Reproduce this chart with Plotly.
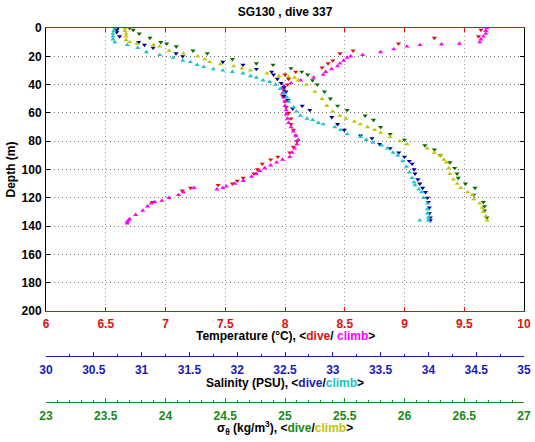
import plotly.graph_objects as go

# ---- data ----
temp_dive_depth = [1.4, 6, 7, 11, 16, 18, 23, 25, 28, 31, 33, 36, 40, 44, 48, 52, 56, 60, 64, 68, 72, 76, 80, 84,
                   88, 91, 93, 96, 100, 103, 106, 108, 110, 111, 113, 115, 123]
temp_dive = [9.64, 9.62, 9.25, 8.95, 8.57, 8.46, 8.40, 8.36, 8.31, 8.09, 8.00, 8.03, 8.02, 7.99, 7.98, 8.00, 8.01, 8.03,
             8.05, 8.05, 8.07, 8.09, 8.10, 8.07, 8.04, 7.94, 7.88, 7.81, 7.77, 7.74, 7.65, 7.60, 7.56, 7.44, 7.21,
             7.14, 6.89]

temp_climb_depth = [0, 2, 4, 6, 8, 10, 11, 11.5, 12, 13, 15, 17, 19, 20, 21, 23, 25, 27, 29, 31, 33, 35, 37, 39, 41,
                    43, 46, 49, 52, 55, 58, 61, 64, 67, 70, 73, 76, 79, 82, 85, 88, 91, 93, 95, 97, 99, 101, 103,
                    105, 108, 110, 112, 113, 114, 113, 116, 118, 120, 122, 123, 124, 126, 129, 132, 135, 136, 137, 138]
temp_climb = [9.69, 9.68, 9.68, 9.66, 9.64, 9.63, 9.46, 9.31, 9.13, 9.02, 8.91, 8.80, 8.65, 8.55, 8.52, 8.49, 8.46,
              8.44, 8.39, 8.34, 8.32, 8.24, 8.13, 8.05, 7.99, 7.97, 7.98, 7.99, 8.00, 8.00, 8.01, 8.01, 8.02, 8.03,
              8.05, 8.07, 8.09, 8.11, 8.10, 8.08, 8.06, 8.04, 7.98, 7.93, 7.88, 7.83, 7.79, 7.76, 7.72, 7.65, 7.58,
              7.51, 7.48, 7.43, 7.24, 7.15, 7.11, 7.03, 6.97, 6.91, 6.88, 6.85, 6.81, 6.75, 6.70, 6.69, 6.68, 6.68]

sal_dive_depth = [0, 1.4, 3, 6, 10, 12, 14, 18, 20, 24, 26, 29, 31, 33, 36, 39, 42, 45, 48, 51, 55, 57, 58, 63, 68,
                  72, 76, 78, 82, 85, 88, 91, 94, 96, 100, 103, 107, 110, 113, 116, 120, 123, 127, 131, 134, 136]
sal_dive = [30.75, 30.74, 30.74, 30.77, 30.97, 31.03, 31.12, 31.36, 31.43, 31.85, 32.06, 32.20, 32.36, 32.38, 32.42,
            32.46, 32.49, 32.51, 32.49, 32.53, 32.68, 32.58, 32.76, 32.99, 33.05, 33.12, 33.29, 33.41, 33.49, 33.60,
            33.69, 33.75, 33.80, 33.83, 33.85, 33.86, 33.89, 33.91, 33.94, 33.97, 33.99, 34.00, 34.01, 34.01,
            34.02, 34.02]

sal_climb_depth = [0, 2, 4, 6, 8, 10, 12, 14, 17, 19, 21, 23, 24, 26, 27.5, 29, 30, 31, 32, 34, 35, 37, 38, 40, 43,
                   46, 49, 52, 56, 59, 62, 64, 65, 67, 68, 70, 72, 75, 77, 79, 81, 83, 85, 88, 90, 94, 98, 102, 106,
                   109, 111, 114, 116, 120, 124, 128, 131, 134, 136, 136]
sal_climb = [30.72, 30.71, 30.70, 30.70, 30.70, 30.72, 30.85, 30.96, 31.05, 31.19, 31.33, 31.43, 31.51, 31.58, 31.65,
             31.75, 31.85, 31.95, 32.06, 32.14, 32.20, 32.27, 32.34, 32.40, 32.45, 32.49, 32.52, 32.54, 32.59, 32.62,
             32.66, 32.73, 32.79, 32.85, 32.90, 33.02, 33.08, 33.15, 33.29, 33.35, 33.42, 33.51, 33.57, 33.63,
             33.68, 33.73, 33.77, 33.80, 33.83, 33.85, 33.86, 33.90, 33.93, 33.95, 33.99, 33.99, 33.99, 34.00,
             34.00, 33.91]

sig_dive_depth = [0, 1.4, 4, 7, 10, 11, 13, 16, 18, 22, 25, 26, 28.5, 31, 33, 37, 40, 45, 50, 55, 58, 62, 65, 70, 75,
                  79, 83, 86, 90, 95, 99, 103, 106, 110, 113, 118, 123, 126, 129, 134]
sig_dive = [23.70, 23.73, 23.78, 23.87, 23.96, 24.01, 24.09, 24.23, 24.35, 24.56, 24.76, 24.90, 25.05, 25.14, 25.19,
            25.23, 25.27, 25.33, 25.38, 25.44, 25.52, 25.67, 25.74, 25.80, 25.88, 26.00, 26.17, 26.25, 26.30, 26.38,
            26.42, 26.44, 26.45, 26.51, 26.59, 26.58, 26.66, 26.67, 26.67, 26.69]

sig_climb_depth = [0, 2, 4, 6, 8.5, 10, 11, 12, 13, 16, 18, 20, 22, 24, 25.5, 27, 28.5, 30, 32, 34, 34.5, 35, 37, 40,
                   45, 50, 55, 59, 62, 64, 66, 68, 70, 72, 74, 77, 80, 82, 85, 88, 90, 93, 95, 99, 103, 107, 110, 113,
                   116, 118, 121, 124, 127, 130, 133, 136]
sig_climb = [23.66, 23.66, 23.67, 23.67, 23.67, 23.70, 23.76, 23.90, 23.95, 24.03, 24.15, 24.27, 24.33, 24.37, 24.46,
             24.57, 24.64, 24.71, 24.85, 24.95, 25.03, 25.08, 25.11, 25.18, 25.25, 25.31, 25.35, 25.40, 25.46, 25.51,
             25.58, 25.63, 25.69, 25.75, 25.80, 25.88, 25.96, 26.02, 26.19, 26.25, 26.30, 26.33, 26.35, 26.37,
             26.38, 26.41, 26.44, 26.47, 26.53, 26.57, 26.58, 26.63, 26.65, 26.66, 26.68, 26.69]

depth_ticks = list(range(0, 201, 20))

# ---- colours ----
RED = '#dd1111'
MAG = '#ff00ff'
BLUE_AX = '#1a1ab8'
BLUE = '#00009a'
CYAN = '#1cc4c4'
GREEN_AX = '#168a16'
GREEN = '#006e00'
OLIVE = '#c4c400'

FONT = 'Liberation Sans, Arial, Helvetica, sans-serif'
MS = 4.5

fig = go.Figure()

def add(x, y, color, sym, xa):
    fig.add_trace(go.Scatter(x=x, y=y, mode='markers', xaxis=xa, yaxis='y',
                             marker=dict(symbol=sym, size=MS, color=color, line=dict(width=0)),
                             hoverinfo='skip'))

add(temp_dive, temp_dive_depth, RED, 'triangle-down', 'x')
add(temp_climb, temp_climb_depth, MAG, 'triangle-up', 'x')
add(sal_dive, sal_dive_depth, BLUE, 'triangle-down', 'x2')
add(sal_climb, sal_climb_depth, CYAN, 'triangle-up', 'x2')
add(sig_dive, sig_dive_depth, GREEN, 'triangle-down', 'x3')
add(sig_climb, sig_climb_depth, OLIVE, 'triangle-up', 'x3')

H = 442
W = 535
top, bottom_axis = 28, 402
plot_bottom, sal_y = 311, 356
left, right = 46, 524
span = bottom_axis - top

def py(p):
    return (bottom_axis - p) / span

ydom0 = py(plot_bottom)
sal_pos = py(sal_y)

grid_y = 'rgba(90,90,90,0.85)'
grid_x = 'rgba(150,120,120,0.8)'
DASH = '1px,3px'

common = dict(automargin=False, zeroline=False)

fig.update_layout(
    width=W, height=H,
    margin=dict(l=left, r=W - right, t=top, b=H - bottom_axis),
    paper_bgcolor='white', plot_bgcolor='white',
    showlegend=False,
    font=dict(family=FONT, size=12, color='black', weight='bold'),
    title=dict(text='SG130 , dive 337', x=0.5, xref='paper', xanchor='center',
               y=1 - 12 / H, yref='container', yanchor='middle',
               font=dict(size=12, weight='bold', color='black')),
    yaxis=dict(domain=[ydom0, 1], range=[200, 0], tickvals=depth_ticks, ticks='inside', ticklen=4,
               tickcolor='black', showline=True, linecolor='black', linewidth=1, mirror='ticks',
               showgrid=True, gridcolor=grid_y, griddash=DASH, gridwidth=1,
               tickfont=dict(size=12, color='black', weight='bold'), ticklabelstandoff=1, **common),
    xaxis=dict(range=[6, 10], dtick=0.5, tick0=6, anchor='y', ticks='inside', ticklen=4, tickcolor=RED,
               showline=True, linecolor=RED, linewidth=1, mirror='ticks',
               showgrid=True, gridcolor=grid_x, griddash=DASH, gridwidth=1,
               tickfont=dict(size=12, color=RED, weight='bold'), ticklabelstandoff=2, **common),
    xaxis2=dict(range=[30, 35], dtick=0.5, tick0=30, overlaying='x', anchor='free', position=sal_pos,
                ticks='inside', ticklen=4, tickcolor=BLUE_AX, showline=True, linecolor=BLUE_AX, linewidth=1,
                minor=dict(dtick=0.25, tick0=30, ticks='inside', ticklen=2, tickcolor=BLUE_AX),
                showgrid=False, tickfont=dict(size=12, color=BLUE_AX, weight='bold'),
                ticklabelstandoff=3, **common),
    xaxis3=dict(range=[23, 27], dtick=0.5, tick0=23, overlaying='x', anchor='free', position=0,
                ticks='inside', ticklen=4, tickcolor=GREEN_AX, showline=True, linecolor=GREEN_AX, linewidth=1,
                minor=dict(dtick=0.1, tick0=23, ticks='inside', ticklen=2, tickcolor=GREEN_AX),
                showgrid=False, tickfont=dict(size=12, color=GREEN_AX, weight='bold'),
                ticklabelstandoff=3, **common),
)

titles = [
    ('Temperature (°C), &lt;<span style="color:%s">dive</span>/ <span style="color:%s">climb</span>&gt;'
     % (RED, MAG), 336),
    ('Salinity (PSU), &lt;<span style="color:%s">dive</span>/<span style="color:%s">climb</span>&gt;'
     % (BLUE_AX, CYAN), 383),
    ('σ<sub>θ</sub> (kg/m<sup>3</sup>), &lt;<span style="color:%s">dive</span>/<span style="color:%s">climb</span>&gt;'
     % (GREEN_AX, OLIVE), 428),
]
for txt, yy in titles:
    fig.add_annotation(text=txt, xref='paper', yref='paper', x=0.5, y=py(yy), xanchor='center',
                       yanchor='middle', showarrow=False,
                       font=dict(size=12, color='black', weight='bold', family=FONT))

fig.add_annotation(text='Depth (m)', xref='paper', yref='paper',
                   x=-(left - 11) / (right - left), y=py((top + plot_bottom) / 2),
                   xanchor='center', yanchor='middle', textangle=-90, showarrow=False,
                   font=dict(size=12, color='black', weight='bold', family=FONT))

fig.write_html('out.html', config={'displayModeBar': False},
               post_script="document.body.style.margin='0';document.body.style.padding='0';")
